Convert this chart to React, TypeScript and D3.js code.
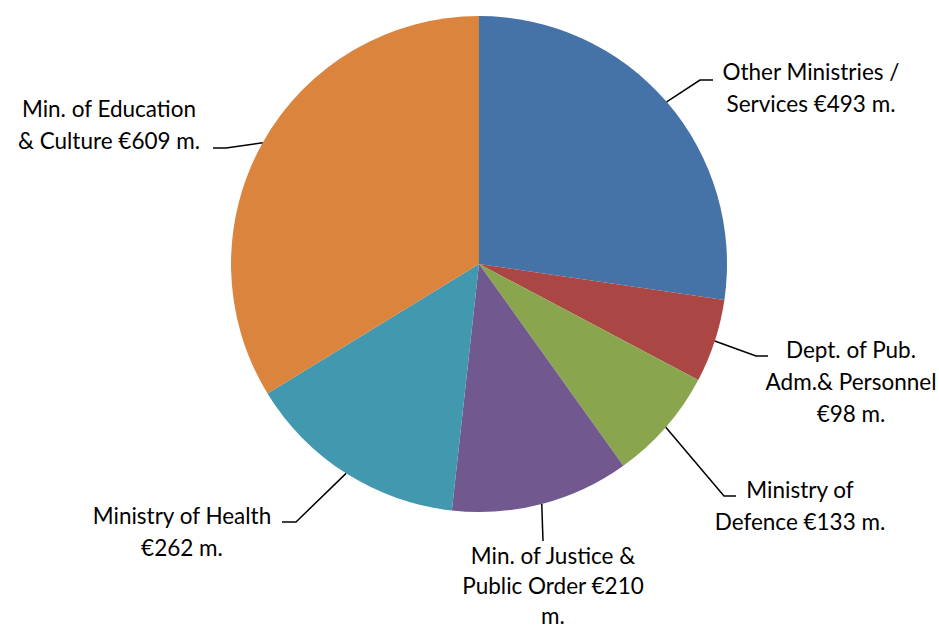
import React from "react";
import * as d3 from "d3";

const categories = [
  "Other Ministries / Services",
  "Dept. of Pub. Adm.& Personnel",
  "Ministry of Defence",
  "Min. of Justice & Public Order",
  "Ministry of Health",
  "Min. of Education & Culture",
];
const values = [493, 98, 133, 210, 262, 609];
const labelLines = [
  ["Other Ministries /", "Services €493 m."],
  ["Dept. of Pub.", "Adm.& Personnel", "€98 m."],
  ["Ministry of", "Defence €133 m."],
  ["Min. of Justice &", "Public Order €210", "m."],
  ["Ministry of Health", "€262 m."],
  ["Min. of Education", "& Culture €609 m."],
];
const colors = ["#4572A7", "#AA4643", "#89A54E", "#71588F", "#4198AF", "#DB843D"];

// label layout: elbow point, end of horizontal tick, text centre x, first baseline y, line step
const labelLayout = [
  { elbow: [700, 80], end: 713, tx: 811, ty: 80, step: 32 },
  { elbow: [756, 356], end: 768, tx: 851, ty: 358, step: 32 },
  { elbow: [724, 496], end: 736, tx: 800, ty: 498, step: 32 },
  { elbow: [543, 541], end: 543, tx: 553, ty: 564, step: 30 },
  { elbow: [296, 522], end: 282, tx: 182, ty: 524, step: 32 },
  { elbow: [226, 148], end: 213, tx: 109, ty: 117, step: 32 },
];

const width = 939;
const height = 632;
const cx = 479;
const cy = 264;
const radius = 248;

export default function App() {
  const data = categories.map((c, i) => ({ name: c, value: values[i] }));
  const pie = d3
    .pie<{ name: string; value: number }>()
    .value((d) => d.value)
    .sort(null);
  const arcs = pie(data);
  const arc = d3
    .arc<d3.PieArcDatum<{ name: string; value: number }>>()
    .innerRadius(0)
    .outerRadius(radius);

  return (
    <svg
      width={width}
      height={height}
      style={{ position: "absolute", left: 0, top: 0 }}
      fontFamily="Lato, 'Open Sans', sans-serif"
    >
      <g transform={`translate(${cx},${cy})`}>
        {arcs.map((a, i) => (
          <path key={i} d={arc(a) || ""} fill={colors[i]} />
        ))}
      </g>
      {arcs.map((a, i) => {
        const mid = (a.startAngle + a.endAngle) / 2;
        const sx = cx + radius * Math.sin(mid);
        const sy = cy - radius * Math.cos(mid);
        const L = labelLayout[i];
        return (
          <g key={i}>
            <polyline
              points={`${sx},${sy} ${L.elbow[0]},${L.elbow[1]} ${L.end},${L.elbow[1]}`}
              fill="none"
              stroke="#000"
              strokeWidth={1.5}
            />
            <text textAnchor="middle" fontSize={22.5} fill="#000">
              {labelLines[i].map((t, j) => (
                <tspan key={j} x={L.tx} y={L.ty + j * L.step}>
                  {t}
                </tspan>
              ))}
            </text>
          </g>
        );
      })}
    </svg>
  );
}
